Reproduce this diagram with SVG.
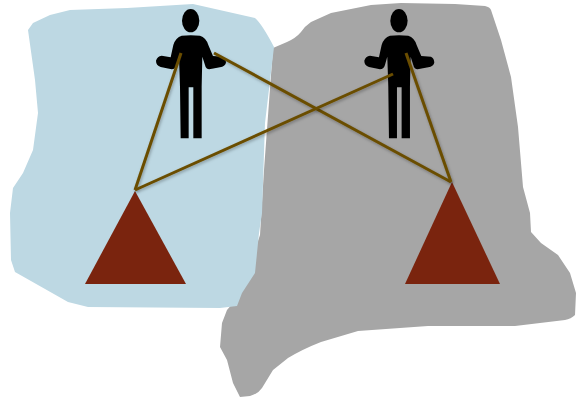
<svg xmlns="http://www.w3.org/2000/svg" width="576" height="398" viewBox="0 0 576 398">
<style>
.link{fill:none;stroke:#6b4e00;stroke-width:3;filter:url(#sh)}
.tri{fill:#7a240e}
.fig{fill:#000}
</style>
<defs>
<filter id="sh" x="-20%" y="-20%" width="140%" height="140%" filterUnits="userSpaceOnUse" primitiveUnits="userSpaceOnUse">
<feDropShadow dx="1" dy="1.5" stdDeviation="1.5" flood-color="#000" flood-opacity="0.3"/>
</filter>
<g id="person" class="fig">
<ellipse cx="152" cy="62" rx="26" ry="35"/>
<path d="M125 107Q152 104 180 107Q198 112 205 135L219 168L248 170Q258 175 258 188Q255 199 240 202L208 208Q198 208 195 195L187 170L185 260V415H160V262H146V415H122L120 260L117 170L110 195Q106 208 95 208L62 201Q48 196 48 182Q52 168 65 167L92 172L100 135Q107 112 125 107Z"/>
</g>
</defs>
<path id="gray-region" fill="#a6a6a6" d="M273 48L287 42Q296 38 301 32Q305 26 311 22L331 13L371 5L401 3L455 4L485 6Q490 7 491 10L501 40L511 77L518 127L523 187L530 213L531 232L541 243L558 255L570 273L576 293L575 315Q571 319 565 320L515 326L428 326L358 331L321 342Q303 349 288 358L273 370L262 388Q258 394 250 396L240 397L233 383L227 360L220 347L222 323L227 310L240 295L260 235L264 170Z"/>
<path id="blue-region" fill="#bdd8e3" d="M28 30L33 23L50 15L70 10L127 8L193 4L255 18Q262 24 274 47L265 123L262 213L259 233L255 273L242 293L237 306L220 308L88 307L68 302L15 272L11 260L10 213L13 188L23 173L33 150L38 113L35 80Z"/>
<g id="person-left"><use href="#person" transform="translate(140 0) scale(.3333)"/></g>
<g id="person-right"><use href="#person" transform="translate(348.3 0) scale(.3333)"/></g>
<g id="triangle-left"><polygon class="tri" points="135,191 85,284 186,284"/></g>
<g id="triangle-right"><polygon class="tri" points="452,182 405,284 500,284"/></g>
<g id="connectors">
<line class="link" x1="181" y1="53" x2="135" y2="190"/>
<line class="link" x1="214" y1="53" x2="451" y2="182"/>
<line class="link" x1="135" y1="190" x2="393" y2="74"/>
<line class="link" x1="406" y1="53" x2="451" y2="182"/>
</g>
</svg>
